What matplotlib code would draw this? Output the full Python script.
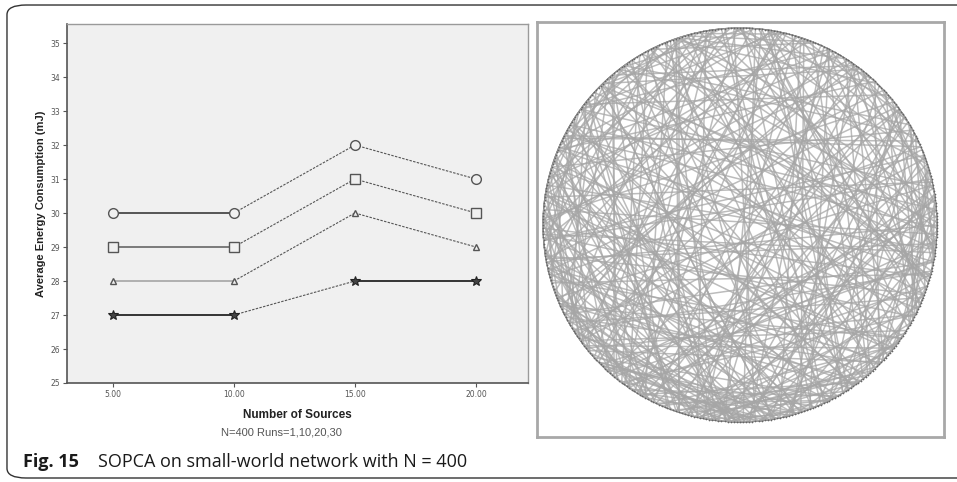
"""
Fig. 15 - SOPCA on a small-world network with N = 400.

Left: average energy consumption vs. number of sources (SPSS-style line chart).
Right: circular layout of the small-world network.
"""

import numpy as np
import matplotlib

matplotlib.use("Agg")
import matplotlib.pyplot as plt
from matplotlib.patches import FancyBboxPatch
from matplotlib.collections import LineCollection

# --- chart data --------------------------------------------------------------
SOURCES = [5, 10, 15, 20]
X_TICK_LABELS = ["5.00", "10.00", "15.00", "20.00"]
Y_TICKS = [25, 26, 27, 28, 29, 30, 31, 32, 33, 34, 35]

ENERGY_CIRCLE = [30, 30, 32, 31]
ENERGY_SQUARE = [29, 29, 31, 30]
ENERGY_TRIANGLE = [28, 28, 30, 29]
ENERGY_STAR = [27, 27, 28, 28]

# --- network data ------------------------------------------------------------
N_NODES = 400
LATTICE_K = 2  # each node linked to its 2 nearest neighbours on each side
SHORTCUTS = [
    (0, 212), (4, 133), (9, 287), (11, 58), (14, 191), (17, 349), (21, 102), (25, 236), (28, 171), (33, 315),
    (36, 79), (40, 254), (43, 198), (47, 366), (51, 122), (54, 283), (58, 149), (62, 227), (65, 391), (69, 176),
    (72, 303), (76, 118), (80, 249), (83, 335), (87, 160), (90, 213), (94, 372), (98, 141), (101, 266), (105, 327),
    (108, 189), (112, 243), (116, 354), (119, 174), (123, 292), (127, 205), (130, 382), (134, 259), (138, 318), (141, 197),
    (145, 276), (149, 343), (152, 231), (156, 297), (160, 377), (163, 218), (167, 309), (171, 254), (174, 388), (178, 262),
    (182, 331), (185, 240), (189, 357), (193, 272), (196, 313), (200, 284), (204, 345), (207, 263), (211, 394), (215, 299),
    (218, 361), (222, 270), (226, 338), (229, 289), (233, 376), (237, 312), (240, 22), (244, 351), (248, 87), (251, 325),
    (255, 3), (259, 370), (262, 131), (266, 341), (270, 45), (273, 358), (277, 156), (281, 384), (284, 67), (288, 349),
    (292, 10), (295, 380), (299, 183), (303, 37), (306, 367), (310, 122), (314, 396), (317, 61), (321, 212), (325, 15),
    (328, 99), (332, 247), (336, 31), (339, 165), (343, 76), (347, 279), (350, 52), (354, 140), (358, 8), (361, 227),
    (365, 93), (369, 19), (372, 181), (376, 71), (380, 261), (383, 128), (387, 44), (391, 203), (394, 110), (398, 287),
    (5, 166), (13, 224), (18, 301), (24, 389), (30, 142), (37, 267), (42, 330), (48, 211), (55, 240), (61, 352),
    (66, 185), (73, 271), (79, 320), (86, 233), (93, 295), (97, 374), (104, 222), (111, 286), (117, 337), (124, 268),
    (131, 300), (137, 385), (144, 256), (150, 311), (157, 234), (164, 280), (170, 399), (177, 296), (183, 242), (190, 322),
    (197, 258), (203, 369), (209, 302), (216, 340), (223, 293), (230, 388), (236, 305), (242, 357), (249, 316), (256, 389),
    (263, 333), (268, 12), (274, 342), (279, 56), (285, 373), (291, 137), (297, 356), (302, 23), (308, 179), (313, 80),
    (319, 249), (324, 106), (330, 281), (335, 2), (341, 154), (346, 64), (352, 214), (357, 120), (363, 287), (368, 33),
    (374, 168), (379, 91), (385, 236), (390, 57), (396, 148),
    (208, 255), (214, 318), (220, 267), (227, 301), (234, 278), (241, 294), (245, 300), (252, 306), (258, 310), (265, 319),
    (272, 330), (278, 336), (286, 345), (290, 359), (294, 341), (298, 262), (300, 232), (304, 250), (309, 268), (312, 226),
    (190, 240), (195, 226), (199, 245), (186, 220), (182, 268), (176, 229), (6, 49), (16, 70), (27, 90), (35, 64),
    (44, 101), (53, 88), (64, 120), (75, 130), (84, 115), (95, 150), (106, 148), (115, 159), (126, 170), (139, 181),
    (148, 200), (155, 190), (161, 210), (366, 20), (371, 40), (378, 30), (386, 9), (393, 35), (355, 395), (345, 380),
    (338, 378), (327, 362), (318, 360), (305, 334), (296, 325), (289, 318),
    (1, 150), (8, 262), (10, 330), (20, 120), (23, 205), (29, 272), (32, 181), (39, 296), (46, 158), (50, 310),
    (57, 199), (59, 265), (68, 230), (71, 345), (77, 190), (82, 288), (88, 252), (91, 335), (100, 203), (102, 305),
    (109, 260), (113, 381), (120, 233), (122, 348), (128, 215), (133, 324), (140, 290), (142, 370), (146, 235), (153, 392),
    (159, 279), (166, 339), (168, 245), (172, 318), (179, 362), (181, 285), (187, 392), (192, 350), (198, 306), (201, 383),
    (205, 15), (210, 330), (217, 26), (219, 384), (225, 60), (231, 350), (238, 40), (243, 370), (247, 110), (253, 5),
    (257, 145), (260, 395), (264, 85), (269, 170), (275, 20), (280, 120), (283, 35), (287, 195), (293, 70), (296, 160),
    (301, 95), (307, 5), (311, 150), (316, 40), (320, 175), (323, 70), (329, 125), (333, 190), (337, 90), (342, 225),
    (348, 130), (351, 15), (356, 190), (360, 100), (364, 240), (367, 150), (373, 60), (377, 210), (381, 100), (384, 175),
    (388, 250), (392, 80), (397, 195), (399, 125), (2, 90), (7, 120), (12, 160), (26, 170), (34, 140), (41, 215),
    (52, 175), (60, 145), (63, 200), (70, 160), (81, 205), (89, 175), (96, 240), (103, 185), (114, 210), (121, 280),
]

PLOT_BG = "#f0f0f0"
DASH = (0, (2.2, 1.2))

# per series: values, marker, size, first segment colour, last segment style
SERIES = [
    (ENERGY_CIRCLE, "o", 7.0, "#555555", "dashed"),
    (ENERGY_SQUARE, "s", 6.5, "#7a7a7a", "dashed"),
    (ENERGY_TRIANGLE, "^", 5.0, "#b0b0b0", "dashed"),
    (ENERGY_STAR, "*", 7.5, "#333333", "solid"),
]


def draw_line_chart(fig):
    ax = fig.add_axes([0.0697, 0.2054, 0.4820, 0.7448])
    ax.set_facecolor(PLOT_BG)

    for values, marker, size, first_color, last_style in SERIES:
        ax.plot(SOURCES[0:2], values[0:2], color=first_color, lw=1.4, solid_capstyle="butt")
        ax.plot(SOURCES[1:3], values[1:3], color="#555555", lw=0.8, ls=DASH)
        if last_style == "solid":
            ax.plot(SOURCES[2:4], values[2:4], color="#333333", lw=1.4)
        else:
            ax.plot(SOURCES[2:4], values[2:4], color="#555555", lw=0.8, ls=DASH)
        if marker == "*":
            ax.plot(SOURCES, values, ls="none", marker=marker, ms=size,
                    mfc="#444444", mec="#222222", mew=0.8, zorder=5)
        else:
            ax.plot(SOURCES, values, ls="none", marker=marker, ms=size,
                    mfc=PLOT_BG, mec="#555555", mew=1.0, zorder=5)

    ax.set_xlim(3.09, 22.15)
    ax.set_ylim(25, 35.56)
    ax.set_xticks(SOURCES)
    ax.set_xticklabels(X_TICK_LABELS)
    ax.set_yticks(Y_TICKS)
    ax.set_yticklabels([str(v) for v in Y_TICKS])
    ax.tick_params(axis="both", labelsize=5.5, labelcolor="#555555", color="#555555",
                   length=3, width=0.8, pad=2)

    for side in ("left", "bottom"):
        ax.spines[side].set_color("#555555")
        ax.spines[side].set_linewidth(1.2)
    for side in ("top", "right"):
        ax.spines[side].set_color("#9a9a9a")
        ax.spines[side].set_linewidth(1.0)

    ax.set_ylabel("Average Energy Consumption (mJ)", fontsize=8, fontweight="bold",
                  family="Liberation Sans", color="#222222", labelpad=3)
    ax.set_xlabel("Number of Sources", fontsize=8.5, fontweight="bold",
                  family="Liberation Sans", color="#222222", labelpad=7)
    ax.text(0.465, -0.125, "N=400 Runs=1,10,20,30", transform=ax.transAxes,
            ha="center", va="top", fontsize=8, family="Liberation Sans", color="#555555")


def draw_network(fig):
    ax = fig.add_axes([0.5611, 0.0934, 0.4253, 0.8610])
    ax.set_xlim(537, 944)
    ax.set_ylim(437, 22)
    ax.set_xticks([])
    ax.set_yticks([])
    ax.set_facecolor("white")
    for spine in ax.spines.values():
        spine.set_color("#a8a8a8")
        spine.set_linewidth(2.0)

    # circular layout
    cx, cy, r = 740.0, 225.0, 197.0
    theta = 2 * np.pi * np.arange(N_NODES) / N_NODES
    px = cx + r * np.cos(theta)
    py = cy - r * np.sin(theta)

    lattice = []
    for i in range(N_NODES):
        for k in range(1, LATTICE_K + 1):
            j = (i + k) % N_NODES
            lattice.append([(px[i], py[i]), (px[j], py[j])])
    ax.add_collection(LineCollection(lattice, colors="#8a8a8a", linewidths=0.8))

    chords = [[(px[a], py[a]), (px[b], py[b])] for a, b in SHORTCUTS]
    ax.add_collection(LineCollection(chords, colors="#a6a6a6", linewidths=1.1, alpha=0.75))

    ax.scatter(px, py, s=1.5, color="#666666", zorder=3, linewidths=0)


def main():
    fig = plt.figure(figsize=(9.57, 4.82), dpi=100)

    frame = FancyBboxPatch((0.0073, 0.0083), 1.05, 0.9813, transform=fig.transFigure,
                           boxstyle="round,pad=0,rounding_size=0.02",
                           fc="none", ec="#333333", lw=1.0)
    fig.patches.append(frame)

    draw_line_chart(fig)
    draw_network(fig)

    fig.text(0.024, 0.031, "Fig. 15", fontsize=13, fontweight="bold",
             family="Open Sans", va="baseline", color="#1a1a1a")
    fig.text(0.1024, 0.031, "SOPCA on small-world network with N = 400", fontsize=13,
             family="Open Sans", va="baseline", color="#1a1a1a")

    fig.savefig("out.png", dpi=100)


if __name__ == "__main__":
    main()
